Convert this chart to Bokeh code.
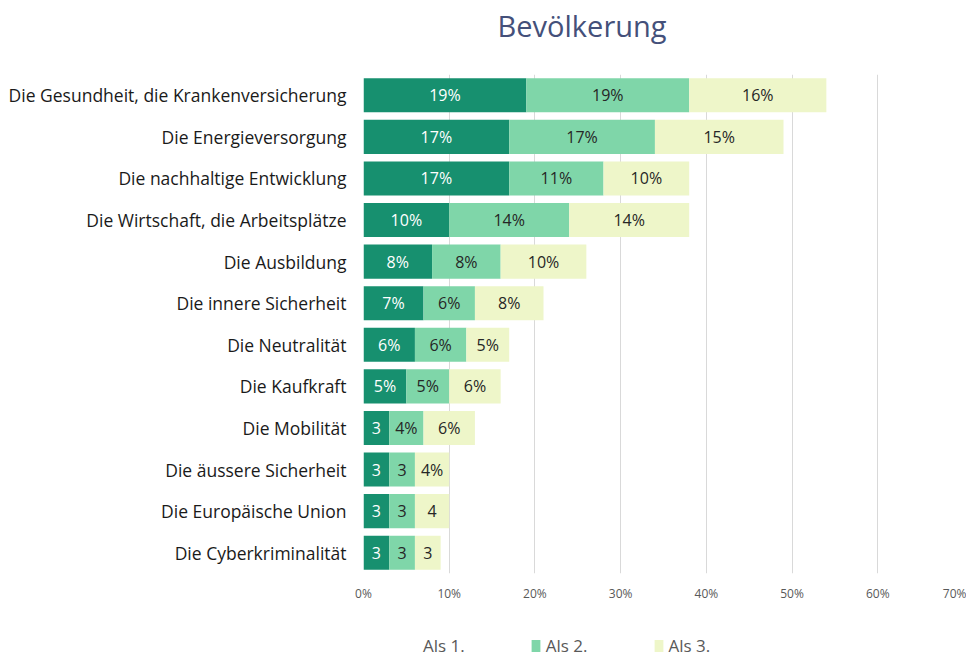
from bokeh.plotting import figure
from bokeh.layouts import column
from bokeh.models import (ColumnDataSource, FixedTicker, PrintfTickFormatter,
                          Legend, LegendItem, Label)
from bokeh.core.properties import value
from bokeh.embed import file_html
from bokeh.resources import INLINE

title_text = "Bevölkerung"
categories = [
    "Die Gesundheit, die Krankenversicherung",
    "Die Energieversorgung",
    "Die nachhaltige Entwicklung",
    "Die Wirtschaft, die Arbeitsplätze",
    "Die Ausbildung",
    "Die innere Sicherheit",
    "Die Neutralität",
    "Die Kaufkraft",
    "Die Mobilität",
    "Die äussere Sicherheit",
    "Die Europäische Union",
    "Die Cyberkriminalität",
]
als1 = [19, 17, 17, 10, 8, 7, 6, 5, 3, 3, 3, 3]
als2 = [19, 17, 11, 14, 8, 6, 6, 5, 4, 3, 3, 3]
als3 = [16, 15, 10, 14, 10, 8, 5, 6, 6, 4, 4, 3]
labels1 = ["19%", "17%", "17%", "10%", "8%", "7%", "6%", "5%", "3", "3", "3", "3"]
labels2 = ["19%", "17%", "11%", "14%", "8%", "6%", "6%", "5%", "4%", "3", "3", "3"]
labels3 = ["16%", "15%", "10%", "14%", "10%", "8%", "5%", "6%", "6%", "4%", "4", "3"]
series_names = ["Als 1.", "Als 2.", "Als 3."]
tick_values = [0, 10, 20, 30, 40, 50, 60, 70]

colors = ["#17906f", "#7fd6a9", "#eef6c9"]
text_colors = ["#ffffff", "#262626", "#262626"]
FONT = "Open Sans"

p = figure(width=966, height=530, y_range=list(reversed(categories)),
           x_range=(0, 70), output_backend="svg", toolbar_location=None,
           min_border_left=363, min_border_right=3, min_border_top=0,
           min_border_bottom=30)

series = [als1, als2, als3]
labels = [labels1, labels2, labels3]
left = [0] * len(categories)
for i, vals in enumerate(series):
    right = [l + v for l, v in zip(left, vals)]
    mid = [(l + r) / 2 for l, r in zip(left, right)]
    src = ColumnDataSource(dict(cat=categories, left=left, right=right,
                                mid=mid, lab=labels[i]))
    p.hbar(y="cat", left="left", right="right", height=0.82, source=src,
           fill_color=colors[i], line_color=None)
    p.text(x="mid", y="cat", text="lab", source=src, text_align="center",
           text_baseline="middle", text_font=value(FONT),
           text_font_size="16px", text_color=text_colors[i])
    left = right

p.xaxis.ticker = FixedTicker(ticks=tick_values)
p.xaxis.formatter = PrintfTickFormatter(format="%d%%")
p.xaxis.axis_line_color = None
p.xaxis.major_tick_line_color = None
p.xaxis.minor_tick_line_color = None
p.xaxis.major_label_text_font = FONT
p.xaxis.major_label_text_font_size = "12px"
p.xaxis.major_label_text_color = "#595959"
p.xaxis.major_label_standoff = 5

p.yaxis.axis_line_color = None
p.yaxis.major_tick_line_color = None
p.yaxis.major_label_text_font = FONT
p.yaxis.major_label_text_font_size = "17.5px"
p.yaxis.major_label_text_color = "#1a1a1a"
p.yaxis.major_label_standoff = 11

p.ygrid.grid_line_color = None
p.xgrid.grid_line_color = "#d9d9d9"
p.xgrid.grid_line_width = 1
p.outline_line_color = None
p.y_range.range_padding = 0

# title figure
p0 = figure(width=966, height=74, x_range=p.x_range, y_range=(0, 74),
            output_backend="svg", toolbar_location=None, min_border=0)
p0.axis.visible = False
p0.grid.grid_line_color = None
p0.outline_line_color = None
p0.add_layout(Label(x=25.5, y=49, text=title_text, text_font=FONT,
                    text_font_size="29px", text_color="#44507a",
                    text_align="center", text_baseline="middle"))

# legend figure (swatch renderers kept outside the visible range)
p2 = figure(width=966, height=53, x_range=(0, 1), y_range=(0, 1),
            output_backend="svg", toolbar_location=None, min_border=0)
p2.axis.visible = False
p2.grid.grid_line_color = None
p2.outline_line_color = None
items = []
legend_colors = ["#ffffff", colors[1], colors[2]]
for name, c in zip(series_names, legend_colors):
    r = p2.hbar(y=[-10], left=[0], right=[0.1], height=0.8, fill_color=c,
                line_color=None)
    items.append(LegendItem(label=name, renderers=[r]))
legend = Legend(items=items, orientation="horizontal", location=(44, 0),
                label_text_font=FONT, label_text_font_size="17px",
                label_text_color="#595959", glyph_width=11, glyph_height=15,
                spacing=65, label_standoff=5, border_line_color=None,
                background_fill_alpha=0, margin=0, padding=4)
p2.add_layout(legend, "center")

open("out.html", "w").write(file_html(column(p0, p, p2, spacing=0), INLINE))
